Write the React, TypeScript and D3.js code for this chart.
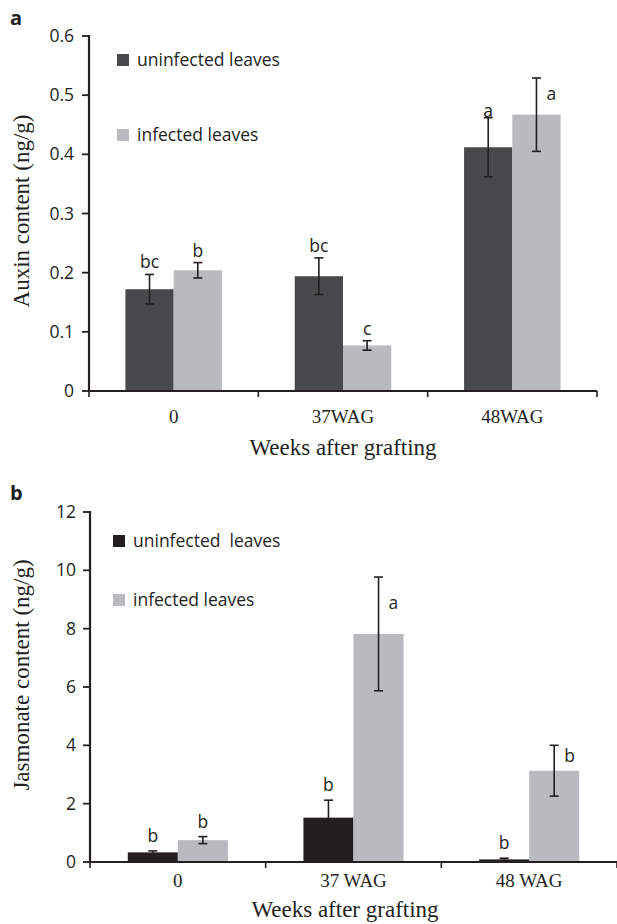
import React from "react";
import * as d3 from "d3";

const categoriesA = ["0", "37WAG", "48WAG"];
const categoriesB = ["0", "37 WAG", "48 WAG"];
const seriesNamesA = ["uninfected leaves", "infected leaves"];
const seriesNamesB = ["uninfected  leaves", "infected leaves"];

const auxinUninfected = [0.172, 0.194, 0.412];
const auxinInfected = [0.204, 0.077, 0.467];
const auxinUninfectedErr = [0.025, 0.031, 0.05];
const auxinInfectedErr = [0.013, 0.008, 0.062];
const auxinUninfectedLabels = ["bc", "bc", "a"];
const auxinInfectedLabels = ["b", "c", "a"];
const auxinTicks = [0, 0.1, 0.2, 0.3, 0.4, 0.5, 0.6];

const jasUninfected = [0.33, 1.52, 0.09];
const jasInfected = [0.75, 7.82, 3.13];
const jasUninfectedErr = [0.05, 0.6, 0.04];
const jasInfectedErr = [0.12, 1.95, 0.87];
const jasUninfectedLabels = ["b", "b", "b"];
const jasInfectedLabels = ["b", "a", "b"];
const jasTicks = [0, 2, 4, 6, 8, 10, 12];

// label placement modes (style, not data)
const auxinUninfPlace = ["above", "above", "on"];
const auxinInfPlace = ["above", "above", "right"];
const jasUninfPlace = ["above", "above", "above"];
const jasInfPlace = ["above", "right", "right"];

const SANS = "'Open Sans', 'DejaVu Sans', sans-serif";
const SERIF = "'Liberation Serif', 'Times New Roman', serif";
const INK = "#231f20";
const SANS_SIZE = 17.5;

type PanelProps = {
  letter: string;
  letterY: number;
  x0: number;
  x1: number;
  yTop: number;
  yBottom: number;
  yMax: number;
  ticks: number[];
  tickFmt: (v: number) => string;
  tickRight: number;
  categories: string[];
  seriesNames: string[];
  values: number[][];
  errs: number[][];
  labels: string[][];
  places: string[][];
  colors: string[];
  yTitle: string;
  yTitleX: number;
  yTitleY: number;
  catY: number;
  xTitleX: number;
  xTitleY: number;
  legendX: number;
  legendY: number[];
  aboveGap: number;
};

function Panel(p: PanelProps) {
  const x = d3
    .scaleBand<string>()
    .domain(p.categories)
    .range([p.x0, p.x1])
    .paddingInner(0.43)
    .paddingOuter(0.215);
  const step = x.step();
  const sub = d3
    .scaleBand<number>()
    .domain([0, 1])
    .range([0, x.bandwidth()]);
  const y = d3.scaleLinear().domain([0, p.yMax]).range([p.yBottom, p.yTop]);
  const bounds = d3.range(p.categories.length + 1).map((i) => p.x0 + i * step);
  const cap = 4.5;

  return (
    <g>
      <text x={10} y={p.letterY} fontFamily={SANS} fontWeight="bold" fontSize={20} fill={INK}>
        {p.letter}
      </text>
      {/* legend */}
      {p.seriesNames.map((s, i) => (
        <g key={s}>
          <rect x={p.legendX} y={p.legendY[i] - 12} width={12} height={12} fill={p.colors[i]} />
          <text x={p.legendX + 20} y={p.legendY[i]} fontFamily={SANS} fontSize={SANS_SIZE} fill={INK} style={{ whiteSpace: "pre" }}>
            {s}
          </text>
        </g>
      ))}
      {/* bars */}
      {p.values.map((vals, si) =>
        vals.map((v, ci) => {
          const bx = (x(p.categories[ci]) as number) + (sub(si) as number);
          return (
            <rect
              key={`b${si}-${ci}`}
              x={bx}
              y={y(v)}
              width={sub.bandwidth()}
              height={y(0) - y(v)}
              fill={p.colors[si]}
            />
          );
        })
      )}
      {/* error bars and labels */}
      {p.values.map((vals, si) =>
        vals.map((v, ci) => {
          const cx = (x(p.categories[ci]) as number) + (sub(si) as number) + sub.bandwidth() / 2;
          const e = p.errs[si][ci];
          const yt = y(v + e);
          const yb = y(v - e);
          const place = p.places[si][ci];
          let lx = cx;
          let ly = yt - p.aboveGap;
          let anchor = "middle";
          if (place === "on") ly = yt - 1;
          if (place === "right") {
            lx = cx + 10;
            anchor = "start";
            ly = (yt + y(v)) / 2 + 4;
          }
          return (
            <g key={`e${si}-${ci}`}>
              <line x1={cx} x2={cx} y1={yt} y2={yb} stroke={INK} strokeWidth={1.6} />
              <line x1={cx - cap} x2={cx + cap} y1={yt} y2={yt} stroke={INK} strokeWidth={1.6} />
              <line x1={cx - cap} x2={cx + cap} y1={yb} y2={yb} stroke={INK} strokeWidth={1.6} />
              <text x={lx} y={ly} textAnchor={anchor} fontFamily={SANS} fontSize={SANS_SIZE} fill={INK}>
                {p.labels[si][ci]}
              </text>
            </g>
          );
        })
      )}
      {/* y axis */}
      <line x1={p.x0} x2={p.x0} y1={p.yTop - 1} y2={p.yBottom + 1} stroke={INK} strokeWidth={2.2} />
      {p.ticks.map((t) => (
        <g key={t}>
          <line x1={p.x0 - 7} x2={p.x0} y1={y(t)} y2={y(t)} stroke={INK} strokeWidth={1.8} />
          <text x={p.tickRight} y={y(t) + 6} textAnchor="end" fontFamily={SANS} fontSize={SANS_SIZE} fill={INK}>
            {p.tickFmt(t)}
          </text>
        </g>
      ))}
      {/* x axis */}
      <line x1={p.x0 - 1} x2={p.x1} y1={p.yBottom} y2={p.yBottom} stroke={INK} strokeWidth={2.2} />
      {bounds.map((b, i) => (
        <line key={i} x1={b} x2={b} y1={p.yBottom} y2={p.yBottom + 6} stroke={INK} strokeWidth={1.6} />
      ))}
      {p.categories.map((c) => (
        <text
          key={c}
          x={(x(c) as number) + x.bandwidth() / 2}
          y={p.catY}
          textAnchor="middle"
          fontFamily={SERIF}
          fontSize={19}
          fill={INK}
          style={{ whiteSpace: "pre" }}
        >
          {c}
        </text>
      ))}
      <text x={p.xTitleX} y={p.xTitleY} textAnchor="middle" fontFamily={SERIF} fontSize={23} fill={INK}>
        Weeks after grafting
      </text>
      <text
        transform={`translate(${p.yTitleX},${p.yTitleY}) rotate(-90)`}
        textAnchor="middle"
        fontFamily={SERIF}
        fontSize={23}
        fill={INK}
      >
        {p.yTitle}
      </text>
    </g>
  );
}

export default function App() {
  return (
    <svg width={617} height={924} style={{ position: "absolute", left: 0, top: 0, background: "#fff" }}>
      <rect width={617} height={924} fill="#fff" />
      <Panel
        letter="a"
        letterY={25}
        x0={89}
        x1={597}
        yTop={36}
        yBottom={391}
        yMax={0.6}
        ticks={auxinTicks}
        tickFmt={(v) => (v === 0 ? "0" : d3.format(".1f")(v))}
        tickRight={74}
        categories={categoriesA}
        seriesNames={seriesNamesA}
        values={[auxinUninfected, auxinInfected]}
        errs={[auxinUninfectedErr, auxinInfectedErr]}
        labels={[auxinUninfectedLabels, auxinInfectedLabels]}
        places={[auxinUninfPlace, auxinInfPlace]}
        colors={["#48494b", "#b9babd"]}
        yTitle="Auxin content (ng/g)"
        yTitleX={29}
        yTitleY={211}
        catY={423}
        xTitleX={343}
        xTitleY={455}
        legendX={117}
        legendY={[66, 141]}
        aboveGap={6}
      />
      <Panel
        letter="b"
        letterY={500}
        x0={90}
        x1={617}
        yTop={512}
        yBottom={862}
        yMax={12}
        ticks={jasTicks}
        tickFmt={(v) => String(v)}
        tickRight={76}
        categories={categoriesB}
        seriesNames={seriesNamesB}
        values={[jasUninfected, jasInfected]}
        errs={[jasUninfectedErr, jasInfectedErr]}
        labels={[jasUninfectedLabels, jasInfectedLabels]}
        places={[jasUninfPlace, jasInfPlace]}
        colors={["#231f20", "#b9babd"]}
        yTitle="Jasmonate content (ng/g)"
        yTitleX={29}
        yTitleY={675}
        catY={887}
        xTitleX={345}
        xTitleY={917}
        legendX={113}
        legendY={[547, 606]}
        aboveGap={9}
      />
    </svg>
  );
}
